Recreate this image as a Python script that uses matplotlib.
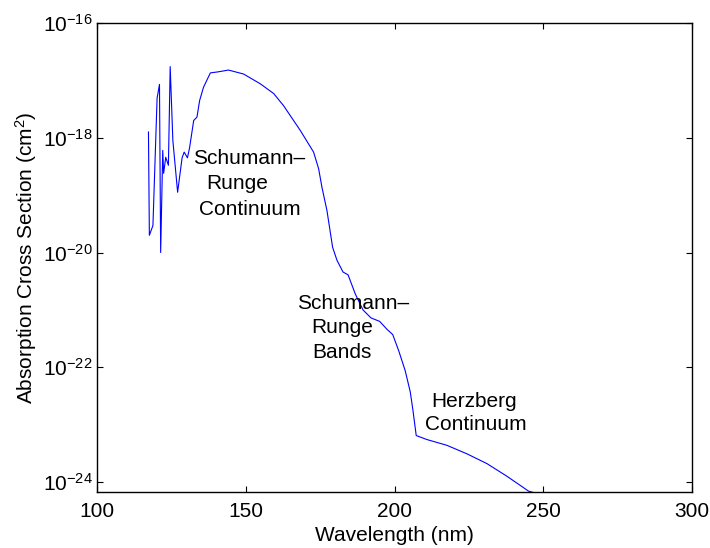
import numpy as np
import matplotlib
matplotlib.use("Agg")
import matplotlib.pyplot as plt

plt.rcParams['font.family'] = ['Liberation Sans', 'DejaVu Sans']
plt.rcParams['mathtext.fontset'] = 'custom'
plt.rcParams['mathtext.rm'] = 'Liberation Sans'
plt.rcParams['mathtext.it'] = 'Liberation Sans:italic'
plt.rcParams['mathtext.bf'] = 'Liberation Sans:bold'

# Wavelength (nm) and log10 of absorption cross section (cm^2)
wavelength = [117.3, 117.6, 118.8, 120.2, 121.0, 121.4, 122.1, 122.4, 123.1, 124.0,
              124.6, 125.5, 127.1, 128.6, 129.3, 130.4, 131.1, 132.5, 133.6, 134.5,
              135.8, 138.1, 140.9, 144.2, 149.3, 154.9, 159.4, 162.7, 168.3, 172.8,
              174.5, 175.6, 177.3, 179.2, 180.7, 182.7, 184.4, 186.8, 189.4, 192.1,
              195.0, 197.5, 199.4, 201.4, 203.6, 205.3, 206.2, 207.3, 210.9, 217.6,
              224.4, 231.1, 237.8, 245.1, 248.0]
log_sigma = [-17.90, -19.70, -19.53, -17.31, -17.07, -20.00, -18.22, -18.62, -18.34, -18.48,
             -16.76, -18.05, -18.95, -18.35, -18.25, -18.35, -18.18, -17.70, -17.64, -17.35,
             -17.12, -16.87, -16.85, -16.82, -16.89, -17.06, -17.23, -17.44, -17.87, -18.25,
             -18.54, -18.86, -19.27, -19.91, -20.14, -20.34, -20.39, -20.72, -21.00, -21.14,
             -21.20, -21.34, -21.43, -21.71, -22.06, -22.43, -22.75, -23.19, -23.26, -23.36,
             -23.51, -23.68, -23.90, -24.16, -24.20]
sigma = [10.0 ** v for v in log_sigma]

x_ticks = [100, 150, 200, 250, 300]
y_ticks = [1e-24, 1e-22, 1e-20, 1e-18, 1e-16]
y_tick_labels = [r'$10^{-24}$', r'$10^{-22}$', r'$10^{-20}$', r'$10^{-18}$', r'$10^{-16}$']

# annotation lines: (text, x, log10 y baseline)
labels = [
    ("Schumann\u2013", 151.2, -18.464),
    ("Runge", 147.2, -18.888),
    ("Continuum", 151.2, -19.353),
    ("Schumann\u2013", 186.2, -20.980),
    ("Runge", 182.4, -21.398),
    ("Bands", 182.3, -21.841),
    ("Herzberg", 226.6, -22.696),
    ("Continuum", 227.5, -23.102),
]

fig = plt.figure(figsize=(7.1, 5.48), dpi=100)
ax = fig.add_axes([97 / 710, (548 - 492) / 548, 595 / 710, 469 / 548])
ax.semilogy(wavelength, sigma, color=(0, 0, 1), linewidth=0.8)

ax.set_xlim(100, 300)
ax.set_ylim(10 ** -24.174, 1e-16)
ax.set_xticks(x_ticks)
ax.set_xticklabels([str(t) for t in x_ticks])
ax.set_yticks(y_ticks)
ax.set_yticklabels(y_tick_labels)
ax.yaxis.set_minor_locator(matplotlib.ticker.NullLocator())

ax.tick_params(which='both', direction='in', top=True, right=True,
               length=4.3, width=0.8, labelsize=15)
ax.tick_params(axis='x', pad=7)
ax.tick_params(axis='y', pad=3)
for s in ax.spines.values():
    s.set_linewidth(1.0)

ax.set_xlabel('Wavelength (nm)', fontsize=15, labelpad=4)
ax.set_ylabel(r'Absorption Cross Section (cm$^2$)', fontsize=15, labelpad=3)

for txt, xv, ly in labels:
    ax.text(xv, 10 ** ly, txt, fontsize=15, ha='center', va='baseline')

fig.savefig('out.png', dpi=100)
